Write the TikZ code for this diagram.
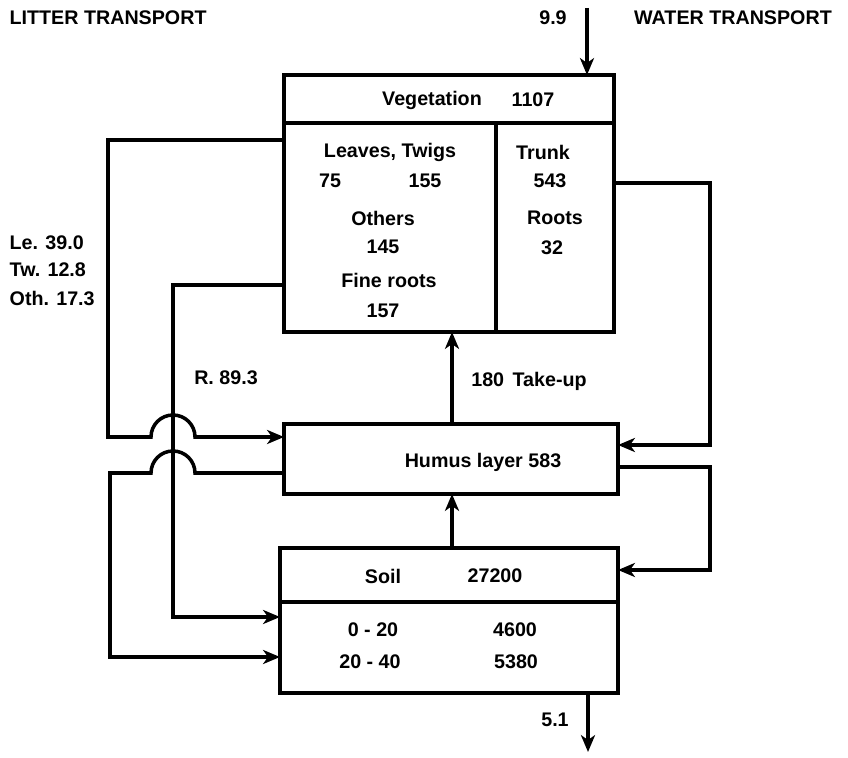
\documentclass[tikz,border=0pt]{standalone}
\usepackage{fontspec}
\setmainfont{Liberation Sans}
\usetikzlibrary{arrows.meta}
\begin{document}
\begin{tikzpicture}[x=0.025cm, y=0.025cm,
    wall/.style={line width=3.3pt},
    box/.style={draw, wall, inner sep=0pt, outer sep=0pt},
    pipe/.style={line width=2.5pt},
    flow/.style={pipe, -{Stealth[length=12pt, width=10pt, inset=3.5pt]}},
    lbl/.style={font=\fontsize{14}{16}\selectfont\bfseries, inner sep=1pt}]
    % Page frame
    \useasboundingbox (0,0) rectangle (848,757);
    % Compartments
    \node[box, minimum width=8.25cm, minimum height=6.425cm] (veg) at (449,553.5) {};
    \node[box, minimum width=8.35cm, minimum height=1.75cm] (hum) at (451,298) {};
    \node[box, minimum width=8.45cm, minimum height=3.625cm] (soil) at (449,136.5) {};
    % Inner partitions
    \draw[wall] (veg.west |- 0,634) -- (veg.east |- 0,634);
    \draw[wall] (496,634) -- (veg.south -| 496,0);
    \draw[wall] (soil.west |- 0,155) -- (soil.east |- 0,155);
    % Titles
    \node[lbl, anchor=west] (litter) at (8,739) {LITTER TRANSPORT};
    \node[lbl] (water) at (733,739) {WATER TRANSPORT};
    % Vegetation contents
    \node[lbl] (vegname) at (432,657) {Vegetation};
    \node[lbl] (vegval) at (533,657) {1107};
    \node[lbl] (leaves) at (390,605) {Leaves, Twigs};
    \node[lbl] (leavesval) at (330,576) {75};
    \node[lbl] (twigsval) at (425,576) {155};
    \node[lbl] (others) at (383,539) {Others};
    \node[lbl] (othersval) at (383,510) {145};
    \node[lbl] (fine) at (389,477) {Fine roots};
    \node[lbl] (fineval) at (383,446) {157};
    \node[lbl] (trunk) at (543,605) {Trunk};
    \node[lbl] (trunkval) at (550,576) {543};
    \node[lbl] (roots) at (555,539) {Roots};
    \node[lbl] (rootsval) at (552,509) {32};
    % Humus and soil contents
    \node[lbl] (humname) at (483,295) {Humus layer 583};
    \node[lbl] (soilname) at (383,181) {Soil};
    \node[lbl] (soilval) at (495,181) {27200};
    \node[lbl] (depthA) at (373,127) {0 - 20};
    \node[lbl] (depthAval) at (515,127) {4600};
    \node[lbl] (depthB) at (370,95) {20 - 40};
    \node[lbl] (depthBval) at (516,95) {5380};
    % Flow labels
    \node[lbl] (inval) at (553,739) {9.9};
    \node[lbl] (outval) at (555,37) {5.1};
    \node[lbl, anchor=west] (le) at (8,514) {Le. 39.0};
    \node[lbl, anchor=west] (tw) at (8,487) {Tw. 12.8};
    \node[lbl, anchor=west] (oth) at (8,459) {Oth. 17.3};
    \node[lbl] (rootfall) at (226,379) {R. 89.3};
    \node[lbl] (takeup) at (529,376) {180\hspace{6pt}Take-up};
    % Inflow and outflow
    \coordinate (inflow) at (587,749);
    \coordinate (outflow) at (588,5);
    \draw[flow] (inflow) -- (inflow |- veg.north);
    \draw[flow] (outflow |- soil.south) -- (outflow);
    % Vertical exchanges
    \draw[flow] (hum.north -| 452,0) -- (veg.south -| 452,0);
    \draw[flow] (soil.north -| 452,0) -- (hum.south -| 452,0);
    % Litter fall and root loops (left)
    \draw[flow] (veg.west |- 0,617) -- (108,617) -- (108,320) -- (151,320)
        arc[start angle=180, end angle=0, radius=0.55cm] -- (hum.west |- 0,320);
    \draw[flow] (veg.west |- 0,472) -- (173,472) -- (173,140) -- (soil.west |- 0,140);
    \draw[flow] (hum.west |- 0,284) -- (195,284)
        arc[start angle=0, end angle=180, radius=0.55cm] -- (110,284) -- (110,100) -- (soil.west |- 0,100);
    % Water loops (right)
    \draw[flow] (veg.east |- 0,574) -- (710,574) -- (710,312) -- (hum.east |- 0,312);
    \draw[flow] (hum.east |- 0,290) -- (710,290) -- (710,187) -- (soil.east |- 0,187);
\end{tikzpicture}
\end{document}
